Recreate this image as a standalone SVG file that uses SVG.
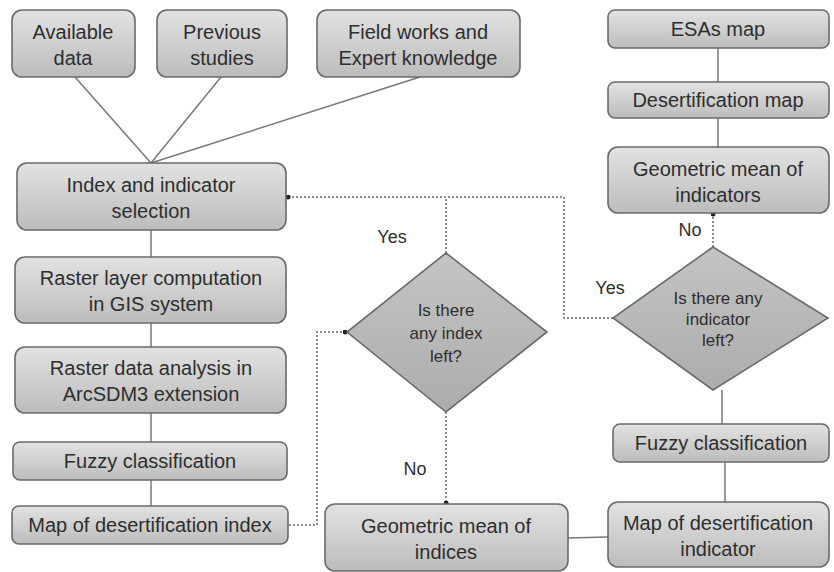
<svg xmlns="http://www.w3.org/2000/svg" width="834" height="572" viewBox="0 0 834 572">
<defs>
<linearGradient id="g" x1="0" y1="0" x2="0" y2="1">
<stop offset="0" stop-color="#e2e2e2"/>
<stop offset="1" stop-color="#bcbcbc"/>
</linearGradient>
<linearGradient id="gd" x1="0" y1="0" x2="0" y2="1">
<stop offset="0" stop-color="#c4c4c4"/>
<stop offset="1" stop-color="#acacac"/>
</linearGradient>
<marker id="dot" viewBox="0 0 6 6" refX="3" refY="3" markerWidth="5" markerHeight="5" markerUnits="userSpaceOnUse">
<circle cx="3" cy="3" r="3" fill="#222"/>
</marker>
<style>
rect.b{fill:url(#g);stroke:#6a6a6a;stroke-width:1.6}
polygon.d{fill:url(#gd);stroke:#6a6a6a;stroke-width:1.6}
text{font-family:"Liberation Sans",Arial,sans-serif;font-size:20px;fill:#2e2e2e;text-anchor:middle}
text.s{font-size:17px}
text.l{font-size:18px}
.c line,.c polyline{stroke:#777;stroke-width:1.5;fill:none}
.c .dt{stroke:#666;stroke-dasharray:2 2;stroke-width:1.5}
</style>
</defs>
<rect width="834" height="572" fill="#fff"/>
<g class="c" id="connectors">
<line x1="75" y1="77" x2="151" y2="163"/>
<line x1="221" y1="77" x2="151" y2="163"/>
<line x1="420" y1="77" x2="151" y2="163"/>
<line x1="151" y1="230" x2="151" y2="257"/>
<line x1="151" y1="323" x2="151" y2="347"/>
<line x1="151" y1="413" x2="151" y2="442"/>
<line x1="151" y1="480" x2="151" y2="506"/>
<line x1="718" y1="48" x2="718" y2="82"/>
<line x1="718" y1="118" x2="718" y2="147"/>
<line x1="722" y1="390" x2="722" y2="424"/>
<line x1="725" y1="462" x2="725" y2="502"/>
<line x1="568" y1="538" x2="608" y2="537"/>
<polyline class="dt" points="289,525 317,525 317,332 345,332" marker-end="url(#dot)"/>
<polyline class="dt" points="446,253 446,197 288,197" marker-end="url(#dot)"/>
<polyline class="dt" points="613,318 564,318 564,197 446,197"/>
<polyline class="dt" points="446,412 446,503" marker-end="url(#dot)"/>
<polyline class="dt" points="713,247 713,214" marker-end="url(#dot)"/>
</g>
<g id="n-available"><rect class="b" x="12" y="10" width="123" height="67" rx="10"/><text x="73" y="39">Available</text><text x="73" y="65">data</text></g>
<g id="n-previous"><rect class="b" x="157" y="10" width="130" height="67" rx="10"/><text x="222" y="39">Previous</text><text x="222" y="65">studies</text></g>
<g id="n-field"><rect class="b" x="317" y="10" width="203" height="67" rx="10"/><text x="418" y="39">Field works and</text><text x="418" y="65">Expert knowledge</text></g>
<g id="n-esas"><rect class="b" x="608" y="10" width="221" height="38" rx="7"/><text x="718" y="36">ESAs map</text></g>
<g id="n-desmap"><rect class="b" x="608" y="82" width="221" height="36" rx="7"/><text x="718" y="107">Desertification map</text></g>
<g id="n-gmind"><rect class="b" x="608" y="147" width="221" height="66" rx="10"/><text x="718" y="176">Geometric mean of</text><text x="718" y="202">indicators</text></g>
<g id="n-select"><rect class="b" x="17" y="163" width="269" height="67" rx="10"/><text x="151" y="192">Index and indicator</text><text x="151" y="218">selection</text></g>
<g id="n-raster1"><rect class="b" x="15" y="257" width="271" height="66" rx="10"/><text x="151" y="285">Raster layer computation</text><text x="151" y="311">in GIS system</text></g>
<g id="n-raster2"><rect class="b" x="15" y="347" width="271" height="66" rx="10"/><text x="151" y="375">Raster data analysis in</text><text x="151" y="401">ArcSDM3 extension</text></g>
<g id="n-fuzzy1"><rect class="b" x="13" y="442" width="274" height="38" rx="7"/><text x="150" y="468">Fuzzy classification</text></g>
<g id="n-mapidx"><rect class="b" x="12" y="506" width="276" height="38" rx="7"/><text x="150" y="532">Map of desertification index</text></g>
<g id="n-gmidx"><rect class="b" x="325" y="504" width="243" height="67" rx="10"/><text x="446" y="533">Geometric mean of</text><text x="446" y="559">indices</text></g>
<g id="n-fuzzy2"><rect class="b" x="613" y="424" width="216" height="38" rx="7"/><text x="721" y="450">Fuzzy classification</text></g>
<g id="n-mapind"><rect class="b" x="608" y="502" width="221" height="65" rx="10"/><text x="718" y="530">Map of desertification</text><text x="718" y="556">indicator</text></g>
<g id="n-dia1"><polygon class="d" points="446,253 547,332 446,412 347,332"/><text class="s" x="446" y="316">Is there</text><text class="s" x="446" y="339">any index</text><text class="s" x="446" y="362">left?</text></g>
<g id="n-dia2"><polygon class="d" points="713,247 828,318 713,390 613,318"/><text class="s" x="718" y="304">Is there any</text><text class="s" x="718" y="325">indicator</text><text class="s" x="718" y="346">left?</text></g>
<text class="l" x="392" y="243">Yes</text>
<text class="l" x="415" y="475">No</text>
<text class="l" x="610" y="294">Yes</text>
<text class="l" x="690" y="236">No</text>
</svg>
